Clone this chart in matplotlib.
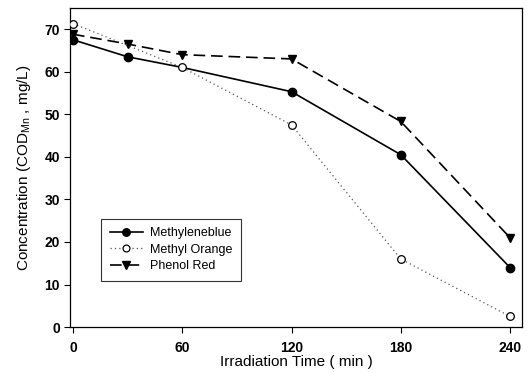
import matplotlib.pyplot as plt

plt.rcParams["font.family"] = ["Liberation Sans", "DejaVu Sans"]

# data
time_mb = [0, 30, 60, 120, 180, 240]
methyleneblue = [67.5, 63.5, 61.0, 55.3, 40.5, 14.0]
time_mo = [0, 60, 120, 180, 240]
methyl_orange = [71.3, 61.0, 47.5, 16.0, 2.5]
time_pr = [0, 30, 60, 120, 180, 240]
phenol_red = [68.8, 66.5, 64.0, 63.0, 48.3, 21.0]
xticks = [0, 60, 120, 180, 240]
yticks = [0, 10, 20, 30, 40, 50, 60, 70]

fig = plt.figure(figsize=(5.32, 3.73), dpi=100)
ax = fig.add_axes([0.132, 0.123, 0.849, 0.856])

ax.plot(time_pr, phenol_red, color="black", lw=1.2, ls=(0, (7, 3.5)),
        marker="v", ms=6, mfc="black", mec="black", label="Phenol Red", zorder=3)
ax.plot(time_mo, methyl_orange, color="#555555", lw=0.9, ls=(0, (1, 2.5)),
        marker="o", ms=5.5, mfc="white", mec="black", mew=0.9, label="Methyl Orange", zorder=4)
ax.plot(time_mb, methyleneblue, color="black", lw=1.2, ls="-",
        marker="o", ms=6, mfc="black", mec="black", label="Methyleneblue", zorder=2,
        markevery=[0, 1, 3, 4, 5])

ax.set_xlim(-1.5, 246.5)
ax.set_ylim(0, 75)
ax.set_xticks(xticks)
ax.set_yticks(yticks)
ax.tick_params(axis="both", labelsize=10, width=0.8, length=4, direction="out")
ax.tick_params(axis="x", pad=6)
for lab in ax.get_xticklabels() + ax.get_yticklabels():
    lab.set_fontweight("bold")
for s in ax.spines.values():
    s.set_linewidth(0.9)

ax.set_xlabel("Irradiation Time ( min )", fontsize=11, labelpad=0)
ax.set_ylabel("Concentration (COD$_{\\mathregular{Mn}}$ , mg/L)", fontsize=11, labelpad=8)

handles, labels = ax.get_legend_handles_labels()
order = [2, 1, 0]
leg = ax.legend([handles[i] for i in order], [labels[i] for i in order],
                loc="lower left", bbox_to_anchor=(0.055, 0.125), fontsize=9,
                frameon=True, fancybox=False, edgecolor="black", handlelength=2.6,
                borderpad=0.7, labelspacing=0.35, handletextpad=0.6, markerscale=0.9)
leg.get_frame().set_linewidth(0.8)

fig.savefig("out.png", dpi=100)
